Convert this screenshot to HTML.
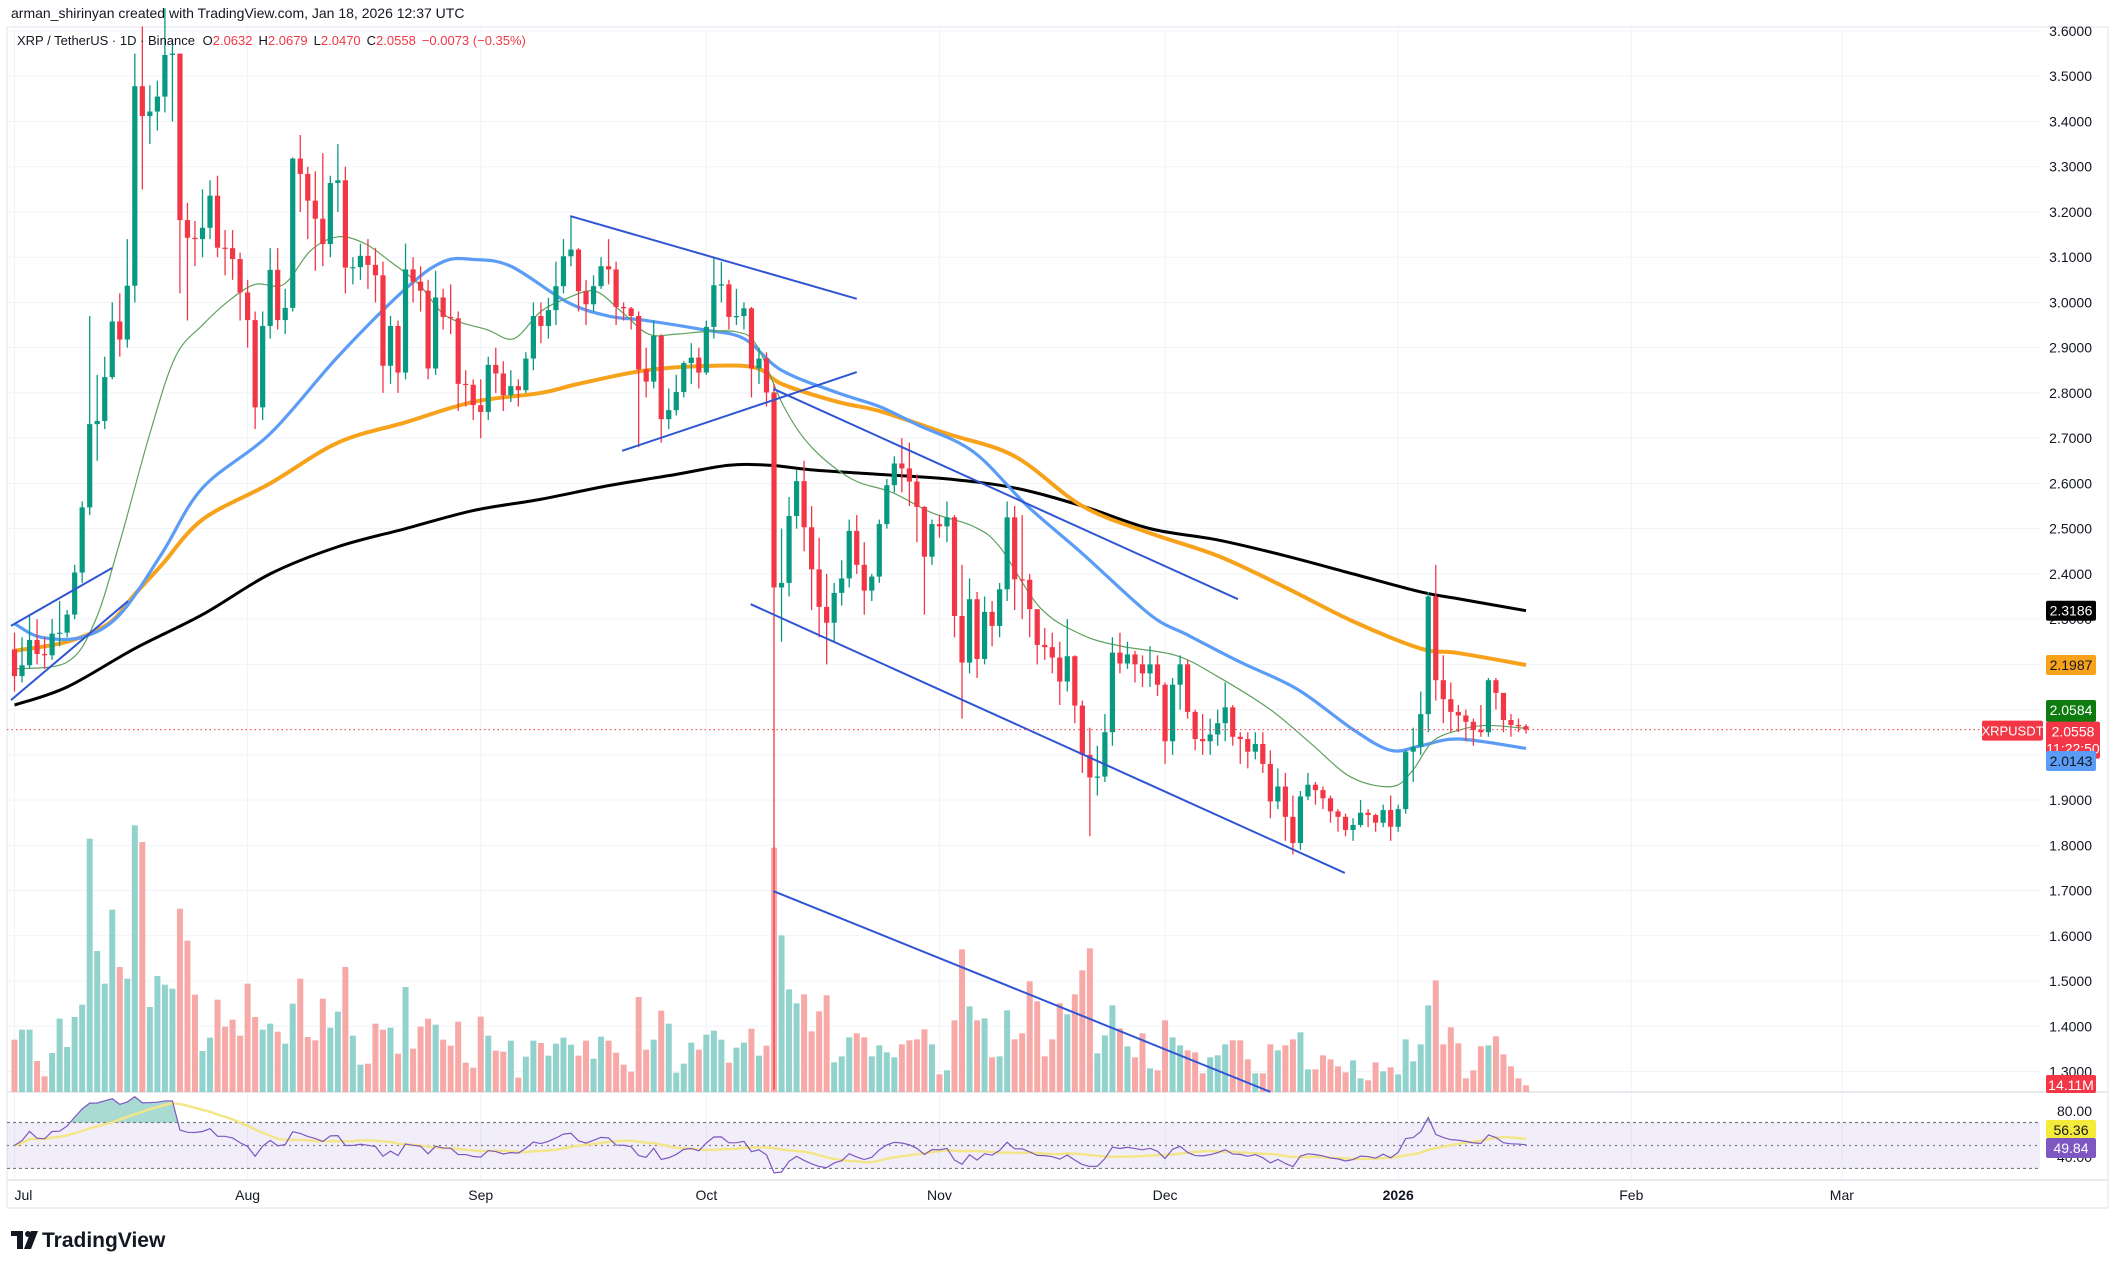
<!DOCTYPE html>
<html><head><meta charset="utf-8"><style>
html,body{margin:0;padding:0;background:#fff;}
svg{display:block;font-family:"Liberation Sans",sans-serif;}
</style></head><body>
<svg id="c" width="2119" height="1269" viewBox="0 0 2119 1269">
<rect x="0" y="0" width="2119" height="1269" fill="#fff"/>
<text x="11" y="18" font-size="14" fill="#131722">arman_shirinyan created with TradingView.com, Jan 18, 2026 12:37 UTC</text>
<rect x="7" y="27" width="2101" height="1181" fill="none" stroke="#e0e3eb" stroke-width="1"/>
<g id="grid"></g>
<g id="vol"></g>
<g id="rsipane"></g>
<g id="mas"></g>
<g id="candles"></g>
<g id="drawings"></g>
<g id="axes"></g>
<text x="17" y="45" font-size="13" fill="#131722">XRP / TetherUS · 1D · Binance <tspan dx="4">O</tspan><tspan fill="#f23645">2.0632</tspan><tspan dx="6">H</tspan><tspan fill="#f23645">2.0679</tspan><tspan dx="6">L</tspan><tspan fill="#f23645">2.0470</tspan><tspan dx="6">C</tspan><tspan fill="#f23645">2.0558</tspan><tspan dx="6" fill="#f23645">−0.0073 (−0.35%)</tspan></text>
<g>
<rect x="11" y="1231" width="12" height="5" fill="#131722"/><rect x="17" y="1231" width="6" height="18" fill="#131722"/>
<circle cx="28" cy="1234" r="3" fill="#131722"/><polygon points="31,1231 38,1231 31,1249 24,1249" fill="#131722"/>
<text x="42" y="1247" font-size="21" font-weight="bold" fill="#131722">TradingView</text>
</g>
</svg>
<script>
const closes=[2.174,2.198,2.254,2.223,2.220,2.268,2.270,2.310,2.403,2.547,
2.731,2.738,2.835,2.958,2.918,3.037,3.478,3.412,3.422,3.455,
3.547,3.550,3.182,3.143,3.140,3.165,3.236,3.121,3.120,3.096,
3.022,2.961,2.768,2.948,3.072,2.961,2.988,3.318,3.284,3.225,
3.185,3.129,3.264,3.270,3.077,3.078,3.103,3.083,3.060,2.860,
2.948,2.845,3.073,3.046,3.026,2.854,3.011,2.968,2.965,2.820,
2.818,2.773,2.758,2.862,2.843,2.795,2.815,2.806,2.876,2.970,
2.948,2.983,3.036,3.102,3.117,3.025,2.996,3.036,3.080,3.073,
2.990,2.987,2.970,2.852,2.825,2.926,2.742,2.762,2.802,2.866,
2.878,2.845,2.946,3.038,3.040,2.968,2.970,2.987,2.854,2.876,
2.801,2.370,2.380,2.528,2.605,2.503,2.410,2.327,2.292,2.358,
2.390,2.495,2.420,2.363,2.394,2.510,2.596,2.644,2.633,2.604,
2.548,2.438,2.510,2.505,2.525,2.307,2.204,2.344,2.212,2.316,
2.285,2.366,2.525,2.388,2.387,2.322,2.243,2.238,2.215,2.162,
2.218,2.109,2.000,1.950,1.952,2.050,2.226,2.202,2.222,2.200,
2.180,2.200,2.155,2.030,2.155,2.200,2.095,2.035,2.030,2.045,
2.070,2.105,2.040,2.035,2.007,2.024,1.980,1.897,1.930,1.863,
1.805,1.908,1.934,1.922,1.904,1.875,1.863,1.834,1.845,1.872,
1.867,1.850,1.878,1.841,1.880,2.007,2.018,2.090,2.350,2.165,
2.123,2.095,2.087,2.073,2.055,2.050,2.165,2.137,2.077,2.066,
2.0632,2.0558];
const firstOpen=2.233;
const highs=[2.27,2.26,2.31,2.30,2.26,2.30,2.34,2.32,2.42,2.56,
2.97,2.84,2.88,3.00,3.02,3.14,3.55,3.61,3.48,3.49,
3.65,3.58,3.55,3.22,3.18,3.25,3.27,3.28,3.16,3.16,
3.11,3.05,2.98,2.98,3.12,3.12,3.03,3.32,3.37,3.30,
3.29,3.33,3.28,3.35,3.30,3.10,3.13,3.14,3.12,3.09,
2.97,2.96,3.13,3.10,3.08,3.05,3.07,3.03,3.04,2.98,
2.85,2.83,2.83,2.88,2.90,2.87,2.85,2.83,2.89,3.00,
3.00,3.01,3.09,3.14,3.19,3.12,3.05,3.06,3.10,3.14,
3.09,3.00,2.99,2.98,2.90,2.96,2.93,2.81,2.84,2.87,
2.91,2.90,2.96,3.10,3.09,3.05,3.03,3.00,2.99,2.90,
2.89,2.82,2.50,2.57,2.63,2.65,2.55,2.48,2.40,2.38,
2.43,2.52,2.53,2.47,2.40,2.52,2.61,2.66,2.70,2.69,
2.62,2.55,2.52,2.53,2.56,2.53,2.42,2.39,2.36,2.35,
2.34,2.38,2.56,2.55,2.53,2.40,2.30,2.28,2.27,2.25,
2.30,2.22,2.12,2.06,2.02,2.09,2.26,2.27,2.25,2.23,
2.22,2.24,2.22,2.16,2.17,2.22,2.21,2.10,2.09,2.08,
2.10,2.16,2.11,2.05,2.05,2.05,2.05,2.01,1.97,1.96,
1.91,1.92,1.96,1.94,1.93,1.91,1.88,1.87,1.86,1.90,
1.88,1.87,1.89,1.91,1.89,2.01,2.06,2.14,2.36,2.42,
2.22,2.16,2.11,2.10,2.08,2.11,2.17,2.17,2.11,2.09,
2.08,2.0679];
const lows=[2.14,2.16,2.19,2.20,2.19,2.21,2.24,2.26,2.30,2.38,
2.53,2.65,2.72,2.83,2.88,2.90,3.00,3.25,3.35,3.38,
3.42,3.40,3.02,2.96,3.08,3.10,3.14,3.10,3.06,3.05,
2.96,2.90,2.72,2.74,2.92,2.94,2.93,2.98,3.20,3.14,
3.07,3.08,3.10,3.20,3.02,3.04,3.05,3.03,3.00,2.80,
2.82,2.80,2.83,3.00,2.98,2.83,2.84,2.94,2.93,2.76,
2.77,2.74,2.70,2.74,2.80,2.76,2.78,2.77,2.80,2.85,
2.91,2.92,2.95,3.02,3.08,2.98,2.95,2.98,3.03,3.04,
2.95,2.96,2.94,2.68,2.79,2.81,2.69,2.72,2.75,2.79,
2.82,2.81,2.84,2.92,3.00,2.94,2.95,2.94,2.79,2.82,
2.77,1.26,2.25,2.35,2.50,2.45,2.32,2.26,2.20,2.25,
2.33,2.37,2.40,2.31,2.34,2.38,2.50,2.58,2.58,2.55,
2.47,2.31,2.42,2.48,2.47,2.26,2.08,2.18,2.17,2.20,
2.24,2.26,2.34,2.32,2.30,2.26,2.20,2.21,2.18,2.11,
2.14,2.07,1.96,1.82,1.91,1.94,2.02,2.18,2.19,2.16,
2.15,2.15,2.13,1.98,2.00,2.10,2.08,2.01,2.00,2.00,
2.02,2.03,2.02,1.98,1.97,1.99,1.96,1.86,1.88,1.81,
1.78,1.79,1.90,1.89,1.88,1.85,1.83,1.82,1.81,1.84,
1.84,1.83,1.84,1.81,1.83,1.87,1.94,2.00,2.05,2.12,
2.07,2.05,2.05,2.03,2.02,2.04,2.04,2.10,2.05,2.04,
2.05,2.047];
const volumes=[157,187,187,93,47,117,220,135,225,262,
760,423,325,547,375,340,800,750,255,348,
322,310,550,454,292,123,163,277,196,217,
169,325,225,187,205,181,145,265,340,165,
155,280,193,241,375,169,82,85,205,187,
193,115,315,130,196,220,202,157,139,211,
88,73,226,169,124,121,154,43,106,154,
147,109,145,163,142,109,154,100,166,154,
118,82,61,285,127,157,244,205,58,85,
148,127,172,184,157,88,133,148,190,109,
139,733,470,308,266,293,182,242,290,89,
107,164,176,164,107,140,119,104,143,155,
158,188,143,53,65,215,428,257,215,221,
104,107,245,158,176,332,272,107,158,266,
233,293,365,431,116,170,260,191,137,104,
176,71,65,215,164,140,125,119,56,104,
110,143,155,155,98,56,56,143,125,140,
158,179,68,68,110,98,77,59,95,41,
35,89,62,74,53,158,92,143,260,335,
143,194,146,41,65,137,140,167,113,77,
41,20];
const ma20=[[0,2.19],[7,2.205],[10.7,2.295],[14,2.47],[18,2.71],[21.4,2.88],[25,2.95],[28.6,3.005],[32,3.04],[35.8,3.04],[39.4,3.115],[43,3.145],[46.6,3.13],[50,3.09],[53.8,3.04],[57.4,2.97],[62.8,2.94],[66.4,2.92],[70,2.98],[73.6,3.01],[77.2,3.025],[80.7,2.98],[84.3,2.93],[88,2.93],[91.5,2.935],[96,2.935],[98.7,2.905],[102.3,2.77],[106,2.68],[111.3,2.61],[116.7,2.58],[122,2.535],[127.5,2.505],[131,2.46],[136.4,2.325],[142,2.265],[147.2,2.24],[154.4,2.22],[159.8,2.175],[167,2.10],[172.4,2.025],[177.8,1.95],[183.2,1.93],[185.9,1.965],[188.6,2.03],[192.2,2.055],[195.8,2.065],[201,2.0584]];
const ma50=[[0,2.29],[3.5,2.26],[9,2.26],[14,2.31],[19.6,2.445],[25,2.59],[34,2.71],[43,2.88],[52,3.03],[57,3.09],[61,3.095],[66,3.08],[73.6,3.0],[79,2.97],[84,2.96],[91.5,2.94],[97,2.92],[102,2.85],[109.5,2.80],[115,2.77],[120,2.73],[127.5,2.67],[134.7,2.55],[142,2.445],[151,2.31],[156,2.265],[163,2.205],[170.6,2.145],[178,2.056],[183,2.01],[187,2.02],[192,2.035],[201,2.0143]];
const ma100=[[0,2.23],[7,2.25],[12.5,2.29],[16,2.355],[19.6,2.42],[25,2.52],[34,2.60],[43,2.69],[52,2.735],[61,2.78],[70,2.80],[75,2.82],[84,2.85],[93,2.86],[98.7,2.855],[102,2.82],[109.5,2.78],[115,2.76],[124,2.71],[133,2.66],[142,2.55],[151,2.49],[160,2.44],[169,2.37],[178,2.295],[187,2.235],[192,2.225],[201,2.1987]];
const ma200=[[0,2.11],[7,2.15],[16,2.235],[25,2.31],[34,2.40],[43,2.46],[52,2.50],[61,2.54],[70,2.565],[79,2.595],[88,2.62],[95,2.64],[100.5,2.64],[106,2.63],[115,2.62],[124,2.61],[133,2.59],[142,2.55],[151,2.50],[160,2.475],[169,2.44],[178,2.40],[187,2.36],[192,2.345],[201,2.3186]];
const trendLines=[[-0.47,2.285,12.97,2.413],[-0.47,2.121,15.1,2.34],[73.9,3.191,112.0,3.008],[80.8,2.672,112.0,2.846],[100.9,2.809,162.7,2.344],[97.9,2.333,176.9,1.739],[100.9,1.699,167.0,1.255]];
const priceTicks=[3.6,3.5,3.4,3.3,3.2,3.1,3.0,2.9,2.8,2.7,2.6,2.5,2.4,2.3,2.2,2.1,2.0,1.9,1.8,1.7,1.6,1.5,1.4,1.3];
const monthLabels=["Jul","Aug","Sep","Oct","Nov","Dec","2026","Feb","Mar"];
const monthDays=[0,31,62,92,123,153,184,215,243];

const NS="http://www.w3.org/2000/svg";
const X=d=>14.5+7.52*d;
const Y=p=>31+(3.6-p)*452.4;
const V=v=>1092-v/3;
const R=r=>1111+(80-r)*1.149;
function mk(tag,attrs,parent){const e=document.createElementNS(NS,tag);for(const k in attrs)e.setAttribute(k,attrs[k]);parent.appendChild(e);return e;}
const G=id=>document.getElementById(id);
const grid=G('grid'),vol=G('vol'),rp=G('rsipane'),mas=G('mas'),cg=G('candles'),dr=G('drawings'),ax=G('axes');

priceTicks.forEach(p=>{const l=mk('line',{x1:7,x2:2040,y1:Y(p),y2:Y(p),stroke:'#f0f3fa','stroke-width':1},grid);

});
monthDays.forEach(d=>{const l=mk('line',{x1:X(d),x2:X(d),y1:27,y2:1180,stroke:'#f0f3fa','stroke-width':1},grid);

});
[1092,1180].forEach(y=>{const l=mk('line',{x1:7,x2:2108,y1:y,y2:y,stroke:'#e0e3eb','stroke-width':1.5},grid);

});

const opens=closes.map((c,i)=>i===0?firstOpen:closes[i-1]);

volumes.forEach((v,i)=>{const up=closes[i]>=opens[i];
const r=mk('rect',{x:X(i)-3,y:V(v),width:6,height:1092-V(v),fill:up?'#92d2cc':'#f7a9a7'},vol);

});

closes.forEach((c,i)=>{const o=opens[i],up=c>=o,col=up?'#089981':'#f23645';
const g=mk('g',{},cg);


mk('line',{x1:X(i),x2:X(i),y1:Y(highs[i]),y2:Y(lows[i]),stroke:col,'stroke-width':1.3},g);
const t=Y(Math.max(o,c)),b=Y(Math.min(o,c));
mk('rect',{x:X(i)-2.6,y:t,width:5.2,height:Math.max(1.2,b-t),fill:col},g);});

function smooth(pts){let s=`M${pts[0][0]},${pts[0][1]}`;for(let i=0;i<pts.length-1;i++){const p0=pts[Math.max(0,i-1)],p1=pts[i],p2=pts[i+1],p3=pts[Math.min(pts.length-1,i+2)];
const c1=[p1[0]+(p2[0]-p0[0])/6,p1[1]+(p2[1]-p0[1])/6],c2=[p2[0]-(p3[0]-p1[0])/6,p2[1]-(p3[1]-p1[1])/6];s+=` C${c1[0]},${c1[1]} ${c2[0]},${c2[1]} ${p2[0]},${p2[1]}`;}return s;}
function maLine(arr,col,w,name){const p=mk('path',{d:smooth(arr.map(a=>[X(a[0]),Y(a[1])])),fill:'none',stroke:col,'stroke-width':w,'stroke-linejoin':'round'},mas);

}
maLine(ma200,'#000',3,'ma200-line');
maLine(ma100,'#f7a21b',4,'ma100-line');
maLine(ma50,'#5b9cf6',3.2,'ma50-line');
maLine(ma20,'#5fa15f',1.2,'ma20-line');

trendLines.forEach(t=>{const l=mk('line',{x1:X(t[0]),y1:Y(t[1]),x2:X(t[2]),y2:Y(t[3]),stroke:'#2f55d4','stroke-width':2},dr);

});
const cp=mk('line',{x1:7,x2:2040,y1:Y(2.0558),y2:Y(2.0558),stroke:'#f23645','stroke-width':1,'stroke-dasharray':'1.5,3'},dr);



const rsi=[];let ag=0.01,al=0.01;rsi.push(50);
for(let i=1;i<closes.length;i++){const ch=closes[i]-closes[i-1];ag=(ag*13+Math.max(ch,0))/14;al=(al*13+Math.max(-ch,0))/14;rsi.push(100-100/(1+ag/al));}
const rsiMa=rsi.map((r,i)=>{const s=rsi.slice(Math.max(0,i-13),i+1);return s.reduce((a,b)=>a+b,0)/s.length;});
const bg=mk('rect',{x:7,y:R(70),width:2033,height:R(30)-R(70),fill:'rgba(126,87,194,0.1)'},rp);


[70,50,30].forEach(v=>{const l=mk('line',{x1:7,x2:2040,y1:R(v),y2:R(v),stroke:'#787b86','stroke-width':1.2,'stroke-dasharray':v===50?'2,4':'3,3'},rp);

});
const rpts=rsi.map((r,i)=>`${X(i)},${R(r)}`).join(' ');
const defs=mk('defs',{},rp);const cl=mk('clipPath',{id:'ob'},defs);mk('rect',{x:0,y:1092,width:2119,height:R(70)-1092},cl);
const ob=mk('polygon',{points:`${X(0)},${R(70)} ${rpts} ${X(rsi.length-1)},${R(70)}`,fill:'rgba(8,153,129,0.35)','clip-path':'url(#ob)'},rp);


const rm=mk('polyline',{points:rsiMa.map((r,i)=>`${X(i)},${R(r)}`).join(' '),fill:'none',stroke:'#f3e58a','stroke-width':2.5},rp);


const rl=mk('polyline',{points:rpts,fill:'none',stroke:'#7e57c2','stroke-width':1.2},rp);



priceTicks.forEach(p=>{const t=mk('text',{x:2092,y:Y(p)+5,'font-size':14,'text-anchor':'end',fill:'#131722'},ax);t.textContent=p.toFixed(4);

});
monthLabels.forEach((m,i)=>{const t=mk('text',{x:X(monthDays[i]),y:1200,'font-size':14,'text-anchor':i===0?'start':'middle',fill:'#131722','font-weight':m==='2026'?'bold':'normal'},ax);t.textContent=m;

});
[[80,'80.00'],[40,'40.00']].forEach(a=>{const t=mk('text',{x:2092,y:R(a[0])+5,'font-size':14,'text-anchor':'end',fill:'#131722'},ax);t.textContent=a[1];

});
function box(x,y,w,h,fill,txt,col,name,lines,fs){const g=mk('g',{},ax);


mk('rect',{x:x,y:y,width:w,height:h,rx:2,fill:fill},g);
(lines||[txt]).forEach((s,k)=>{const t=mk('text',{x:x+w/2,y:y+15+k*17,'font-size':fs||14,'text-anchor':'middle',fill:col},g);t.textContent=s;});}
box(2046,Y(2.3186)-10,50,20,'#000','2.3186','#fff','ma200-price-label');
box(2046,Y(2.1987)-10,50,20,'#f7a21b','2.1987','#131722','ma100-price-label');
box(2046,700,50,22,'#0e7b0e','2.0584','#fff','ma20-price-label');
box(2046,Y(2.0558)-8,54,37,'#f23645','','#fff','last-price-label',['2.0558','11:22:50']);
box(1982,Y(2.0558)-9,61,20,'#f23645','XRPUSDT','#fff','symbol-price-tag',null,13);
box(2046,751,50,20,'#5b9cf6','2.0143','#131722','ma50-price-label');
box(2046,1075,50,18,'#f23645','14.11M','#fff','volume-label');
box(2046,1120,50,18,'#f5eb3b','56.36','#131722','rsi-ma-label');
box(2046,1138,50,20,'#7e57c2','49.84','#fff','rsi-value-label');
</script>
</body></html>
